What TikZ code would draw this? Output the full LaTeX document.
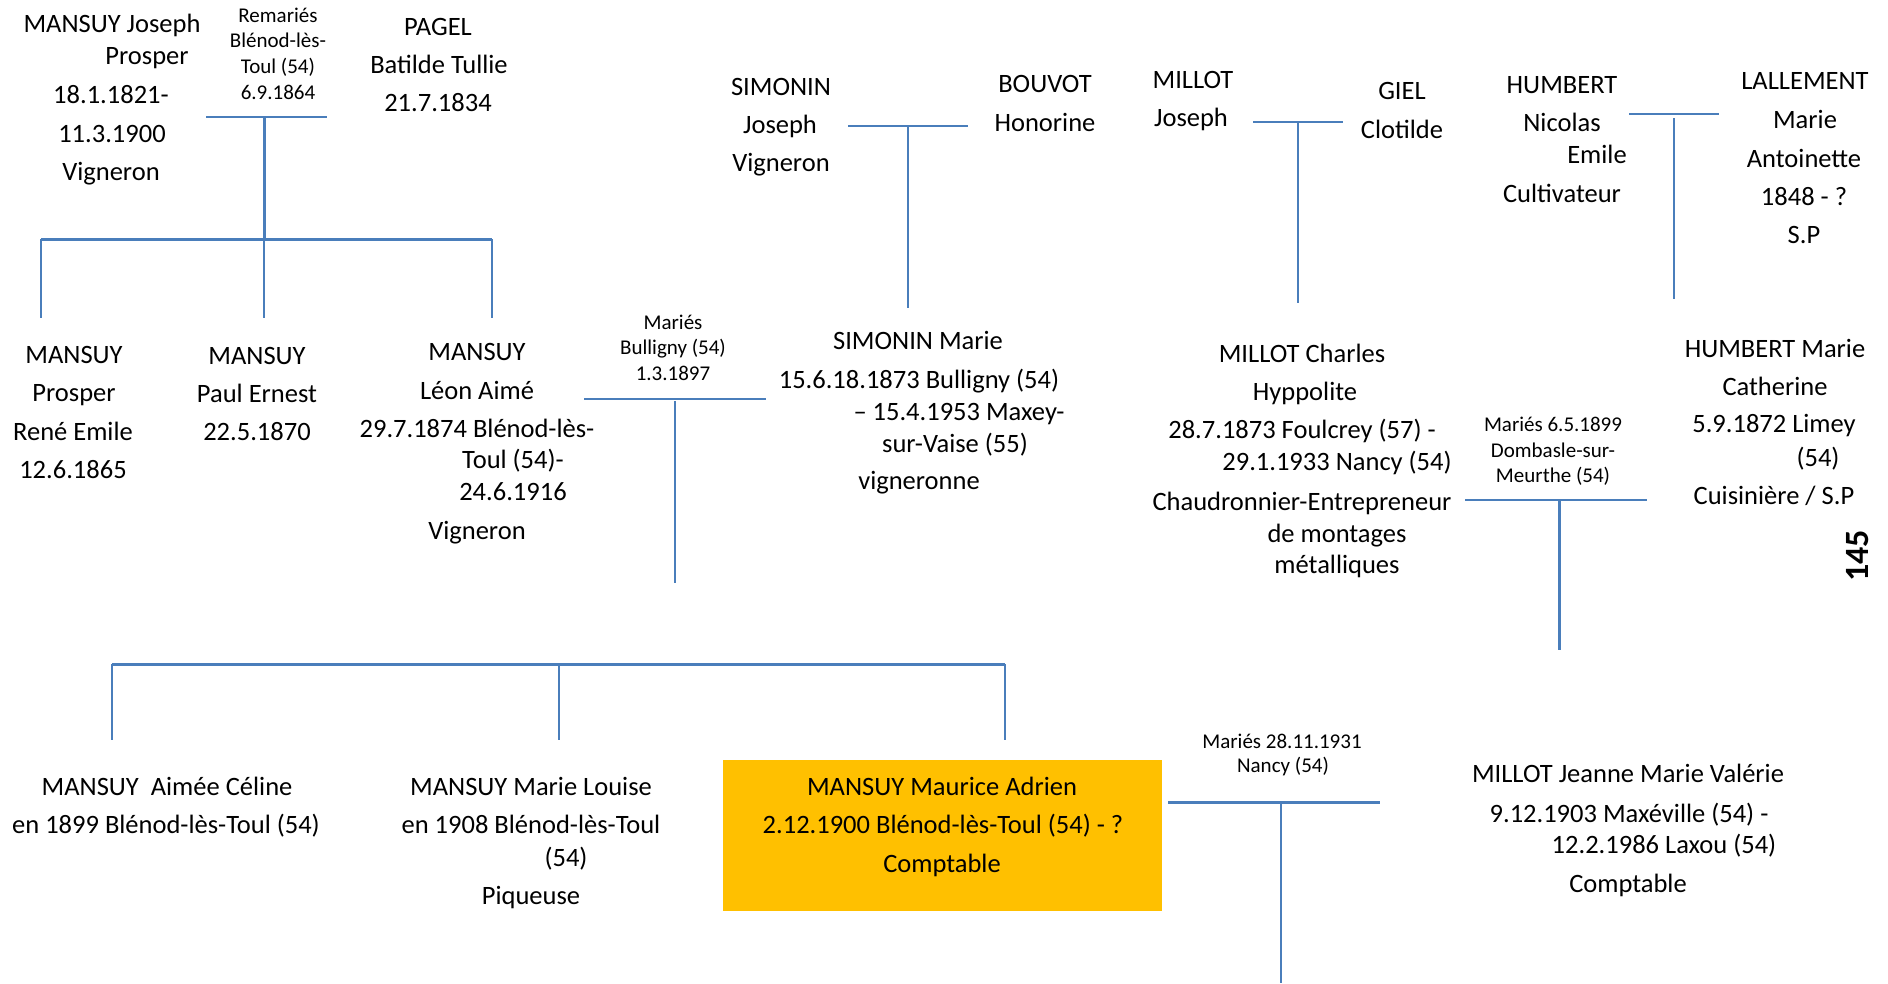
\documentclass[tikz,border=0pt]{standalone}
\usepackage{fontspec}
\setmainfont{Carlito}
\definecolor{lnblue}{HTML}{4A7EBB}
\definecolor{gold}{HTML}{FFC000}
\begin{document}
\begin{tikzpicture}[x=1pt,y=-1pt,
  txt/.style={anchor=base,inner sep=0pt,font=\fontsize{26.5}{31}\selectfont},
  sml/.style={anchor=base,inner sep=0pt,font=\fontsize{21}{25}\selectfont},
  thin/.style={draw=lnblue,line width=2pt},
  thick/.style={draw=lnblue,line width=3pt}]
\useasboundingbox (0,0) rectangle (1888,983);
\fill[white] (0,0) rectangle (1888,983);

% ---------- Top row ----------
\node[txt] (a1) at (112,32) {MANSUY Joseph};
\node[txt] (a2) at (147,64) {Prosper};
\node[txt] (a3) at (111,103) {18.1.1821-};
\node[txt] (a4) at (112,142) {11.3.1900};
\node[txt] (a5) at (111,180) {Vigneron};

\node[sml] (r1) at (278,22) {Remariés};
\node[sml] (r2) at (278,47) {Blénod-lès-};
\node[sml] (r3) at (278,73) {Toul (54)};
\node[sml] (r4) at (278,99) {6.9.1864};

\node[txt] (p1) at (438,35) {PAGEL};
\node[txt] (p2) at (439,73) {Batilde Tullie};
\node[txt] (p3) at (438,111) {21.7.1834};

\node[txt] (s1) at (781,95) {SIMONIN};
\node[txt] (s2) at (780,133) {Joseph};
\node[txt] (s3) at (781,171) {Vigneron};

\node[txt] (bv1) at (1045,92) {BOUVOT};
\node[txt] (bv2) at (1045,131) {Honorine};

\node[txt] (mj1) at (1193,88) {MILLOT};
\node[txt] (mj2) at (1191,126) {Joseph};

\node[txt] (g1) at (1402,99) {GIEL};
\node[txt] (g2) at (1402,138) {Clotilde};

\node[txt] (h1) at (1562,93) {HUMBERT};
\node[txt] (h2) at (1562,131) {Nicolas};
\node[txt] (h3) at (1597,163) {Emile};
\node[txt] (h4) at (1562,202) {Cultivateur};

\node[txt] (l1) at (1805,89) {LALLEMENT};
\node[txt] (l2) at (1805,128) {Marie};
\node[txt] (l3) at (1804,167) {Antoinette};
\node[txt] (l4) at (1804,205) {1848 - ?};
\node[txt] (l5) at (1804,243) {S.P};

% ---------- Middle row ----------
\node[txt] (c1a) at (74,363) {MANSUY};
\node[txt] (c1b) at (74,401) {Prosper};
\node[txt] (c1c) at (73,440) {René Emile};
\node[txt] (c1d) at (73,478) {12.6.1865};

\node[txt] (c2a) at (257,364) {MANSUY};
\node[txt] (c2b) at (257,402) {Paul Ernest};
\node[txt] (c2c) at (257,440) {22.5.1870};

\node[txt] (c3a) at (477,360) {MANSUY};
\node[txt] (c3b) at (477,399) {Léon Aimé};
\node[txt] (c3c) at (477,437) {29.7.1874 Blénod-lès-};
\node[txt] (c3d) at (513,468) {Toul (54)-};
\node[txt] (c3e) at (513,500) {24.6.1916};
\node[txt] (c3f) at (477,539) {Vigneron};

\node[sml] (mb1) at (673,329) {Mariés};
\node[sml] (mb2) at (673,354) {Bulligny (54)};
\node[sml] (mb3) at (673,380) {1.3.1897};

\node[txt] (sm1) at (918,349) {SIMONIN Marie};
\node[txt] (sm2) at (919,388) {15.6.18.1873 Bulligny (54)};
\node[txt] (sm3) at (959,420) {– 15.4.1953 Maxey-};
\node[txt] (sm4) at (955,452) {sur-Vaise (55)};
\node[txt] (sm5) at (919,489) {vigneronne};

\node[txt] (mc1) at (1302,362) {MILLOT Charles};
\node[txt] (mc2) at (1305,400) {Hyppolite};
\node[txt] (mc3) at (1302,438) {28.7.1873 Foulcrey (57) -};
\node[txt] (mc4) at (1337,470) {29.1.1933 Nancy (54)};
\node[txt] (mc5) at (1302,510) {Chaudronnier-Entrepreneur};
\node[txt] (mc6) at (1337,542) {de montages};
\node[txt] (mc7) at (1337,573) {métalliques};

\node[sml] (md1) at (1553,431) {Mariés 6.5.1899};
\node[sml] (md2) at (1553,457) {Dombasle-sur-};
\node[sml] (md3) at (1553,482) {Meurthe (54)};

\node[txt] (hm1) at (1775,357) {HUMBERT Marie};
\node[txt] (hm2) at (1775,395) {Catherine};
\node[txt] (hm3) at (1774,432) {5.9.1872 Limey};
\node[txt] (hm4) at (1818,466) {(54)};
\node[txt] (hm5) at (1774,504) {Cuisinière / S.P};

\node[rotate=90,inner sep=0pt,font=\bfseries\fontsize{34}{38}\selectfont] (pg) at (1858,556) {145};

% ---------- Bottom row ----------
\node[txt] (c4a) at (167,795) {MANSUY~~Aimée Céline};
\node[txt] (c4b) at (166,833) {en 1899 Blénod-lès-Toul (54)};

\node[txt] (c5a) at (531,795) {MANSUY Marie Louise};
\node[txt] (c5b) at (531,833) {en 1908 Blénod-lès-Toul};
\node[txt] (c5c) at (566,866) {(54)};
\node[txt] (c5d) at (531,904) {Piqueuse};

\fill[gold] (723,760) rectangle (1162,911);
\node[txt] (mm1) at (942,795) {MANSUY Maurice Adrien};
\node[txt] (mm2) at (943,833) {2.12.1900 Blénod-lès-Toul (54) - ?};
\node[txt] (mm3) at (942,872) {Comptable};

\node[sml] (mn1) at (1282,748) {Mariés 28.11.1931};
\node[sml] (mn2) at (1283,772) {Nancy (54)};

\node[txt] (j1) at (1628,782) {MILLOT Jeanne Marie Valérie};
\node[txt] (j2) at (1629,822) {9.12.1903 Maxéville (54) -};
\node[txt] (j3) at (1664,853) {12.2.1986 Laxou (54)};
\node[txt] (j4) at (1628,892) {Comptable};

% ---------- Connectors ----------
% Mansuy / Pagel
\coordinate (m1L) at (206,117); \coordinate (m1R) at (327,117);
\coordinate (m1) at (264,117); \coordinate (b1) at (264,239);
\coordinate (b1L) at (41,239); \coordinate (b1R) at (492,239);
\coordinate (d1a) at (41,318); \coordinate (d1b) at (264,318); \coordinate (d1c) at (492,318);
\draw[thin] (m1L) -- (m1R);
\draw[thick] (m1) -- (b1);
\draw[thick] (b1L) -- (b1R);
\draw[thin] (b1L) -- (d1a);
\draw[thin] (b1) -- (d1b);
\draw[thin] (b1R) -- (d1c);

% Simonin / Bouvot
\coordinate (m2L) at (848,126); \coordinate (m2R) at (968,126);
\coordinate (m2) at (908,126); \coordinate (e2) at (908,308);
\draw[thin] (m2L) -- (m2R);
\draw[thin] (m2) -- (e2);

% Millot / Giel
\coordinate (m3L) at (1253,122); \coordinate (m3R) at (1343,122);
\coordinate (m3) at (1298,122); \coordinate (e3) at (1298,303);
\draw[thin] (m3L) -- (m3R);
\draw[thin] (m3) -- (e3);

% Humbert / Lallement
\coordinate (m4L) at (1629,114); \coordinate (m4R) at (1719,114);
\coordinate (m4) at (1674,118); \coordinate (e4) at (1674,299);
\draw[thin] (m4L) -- (m4R);
\draw[thin] (m4) -- (e4);

% Mansuy Leon / Simonin Marie
\coordinate (m5L) at (584,399); \coordinate (m5R) at (766,399);
\coordinate (m5) at (675,401); \coordinate (e5) at (675,583);
\draw[thin] (m5L) -- (m5R);
\draw[line width=2.5pt,lnblue] (m5) -- (e5);

% Millot Charles / Humbert Marie
\coordinate (m6L) at (1465,500); \coordinate (m6R) at (1647,500);
\coordinate (m6) at (1559,500); \coordinate (e6) at (1559,650);
\draw[thin] (m6L) -- (m6R);
\draw[thick] (m6) -- (e6);

% Children bracket
\coordinate (b2L) at (112,664); \coordinate (b2M) at (559,664); \coordinate (b2R) at (1005,664);
\coordinate (d2a) at (112,740); \coordinate (d2b) at (559,740); \coordinate (d2c) at (1005,740);
\draw[thick] (b2L) -- (b2R);
\draw[thin] (b2L) -- (d2a);
\draw[thin] (b2M) -- (d2b);
\draw[thin] (b2R) -- (d2c);

% Maurice / Jeanne
\coordinate (m7L) at (1168,802); \coordinate (m7R) at (1380,802);
\coordinate (m7) at (1281,802); \coordinate (e7) at (1281,983);
\draw[thick] (m7L) -- (m7R);
\draw[thin] (m7) -- (e7);
\end{tikzpicture}
\end{document}
